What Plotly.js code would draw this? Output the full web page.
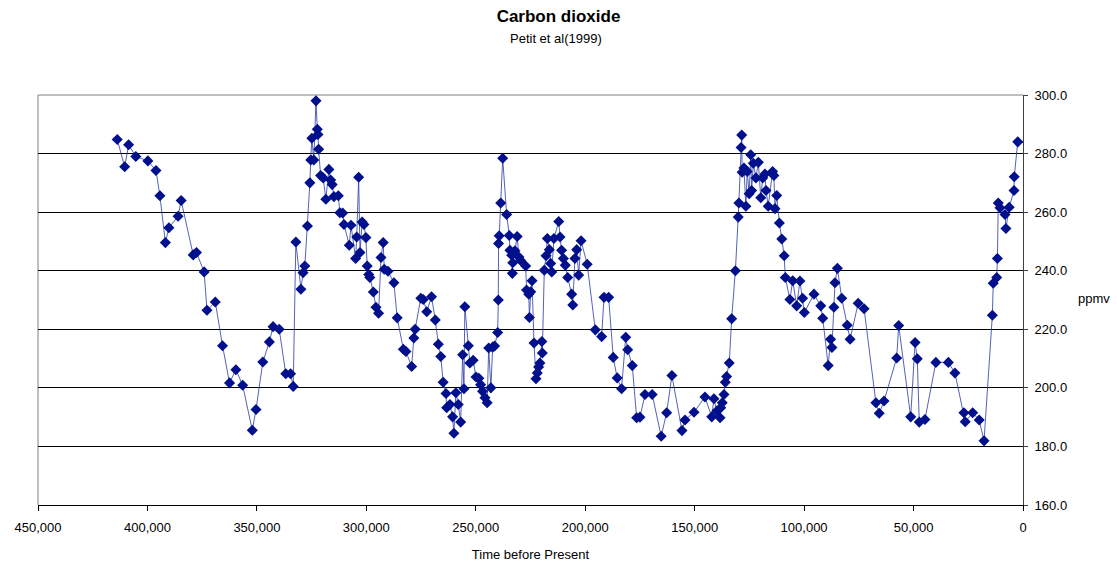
<!DOCTYPE html>
<html>
<head>
<meta charset="utf-8">
<script src="https://cdn.plot.ly/plotly-3.0.1.min.js"></script>
<style>html,body{margin:0;padding:0;background:#fff;}#chart{width:1117px;height:562px;}</style>
</head>
<body>
<div id="chart"></div>
<script>
// Years before present (Vostok ice core, Petit et al 1999)
const age = [
413800,410400,408600,405300,399800,396100,394300,391800,390200,386000,
384600,379100,377600,374100,372800,369000,365700,362500,359600,356500,
352100,350400,347300,344300,342600,339800,336800,334600,333400,332200,
329900,328900,328100,326900,325800,325400,324900,324000,323000,322400,
322100,321800,320900,319700,318500,317100,316300,315600,314800,312800,
312100,310800,310200,307800,307000,304900,304400,303500,302900,301900,
301100,300200,299600,298900,298400,296800,295600,294400,293300,292300,
291800,290100,287400,285900,283100,281900,279300,278300,277700,275100,
274000,272400,270200,268500,267100,266000,264900,263600,263300,261800,
260600,260000,259100,258000,256900,256000,255400,255000,253400,252700,
251200,249900,248600,247800,246900,245800,244800,244100,243100,242300,
241400,240000,239700,239600,239300,238600,237700,235900,234700,234400,
233600,233300,233100,232100,231100,230300,229500,227200,226800,225800,
225500,224900,224300,223400,222500,221900,221300,220700,219800,219600,
218700,217900,217300,216400,215800,215300,214300,212100,211500,210800,
210000,209100,208000,206200,205700,204700,203900,203000,201900,199100,
195400,192500,191400,189300,187200,185400,183400,181500,180600,178500,
176500,175000,172700,169400,165300,162800,160400,155800,154400,150300,
145300,142200,141200,139900,138400,138100,137400,136600,136000,135400,
134200,133100,131400,130100,129800,128800,128500,128300,127500,126600,
126000,125100,124400,124000,123200,122000,120900,119800,118900,117900,
117400,116400,114400,113800,113300,112500,111300,110200,109100,108600,
106500,105200,103400,101900,100700,99900,95500,92400,91500,89000,
87900,87300,86400,85900,84800,82800,80300,79000,75300,72600,
67200,65700,63500,57700,56800,51300,49300,48300,47400,44800,
39800,34100,31100,27000,26400,23000,20000,17800,14000,13600,
12000,11700,11300,10500,8200,7800,6300,4100,4000,2400
];
// CO2 concentration, ppmv
const co2 = [
284.8,275.5,283.0,279.0,277.5,274.2,265.6,249.6,254.7,258.6,
264.0,245.4,246.2,239.6,226.5,229.3,214.4,201.7,206.2,200.9,
185.5,192.6,208.8,215.7,220.9,220.0,204.8,204.8,200.5,249.8,
233.7,239.3,241.6,255.3,270.0,277.8,285.2,277.8,298.0,288.3,
286.5,281.5,272.5,271.7,264.4,274.6,271.0,269.4,265.3,265.6,
259.8,259.7,255.8,248.7,255.5,244.2,251.5,271.9,246.2,256.6,
255.8,251.3,241.6,238.7,237.7,232.7,227.5,225.5,244.5,249.6,
240.5,239.8,235.9,223.9,213.2,212.4,207.3,217.0,220.0,230.6,
230.2,226.0,231.1,223.2,214.9,210.7,201.9,198.1,193.2,194.3,
190.1,184.5,198.3,194.3,188.3,211.3,199.7,227.7,214.4,208.5,
209.4,203.7,203.3,201.1,198.8,196.6,194.9,213.6,200.0,213.9,
214.3,218.9,230.0,249.3,251.9,263.1,278.4,259.2,252.0,247.0,
245.3,239.1,242.7,246.8,251.7,244.7,243.5,241.6,233.4,232.0,
224.0,232.8,236.6,215.3,203.1,205.1,207.1,208.5,215.8,211.9,
240.2,245.1,251.0,247.2,242.5,239.6,251.0,256.8,251.5,247.0,
244.2,241.9,237.7,232.0,228.3,244.2,247.2,238.5,250.2,242.2,
219.8,217.5,230.9,230.9,210.4,203.4,199.7,217.3,213.0,207.6,
189.8,190.0,197.7,197.7,183.5,191.5,204.2,185.4,189.0,191.7,
196.9,190.1,196.3,192.1,189.8,193.2,194.9,197.7,201.9,203.9,
208.5,223.6,240.0,258.3,263.1,282.1,286.3,273.6,275.1,262.0,
273.9,266.3,279.6,267.4,276.7,271.7,277.0,264.9,271.7,273.0,
267.4,262.0,273.9,272.5,261.2,265.7,256.3,250.8,245.1,237.7,
230.2,236.6,228.0,236.5,230.6,225.7,232.0,228.0,223.8,207.6,
216.6,213.8,227.5,235.9,240.8,230.6,221.4,216.6,228.9,227.0,
194.9,191.3,195.5,210.2,221.3,190.1,215.5,209.9,188.3,189.2,
208.7,208.7,205.1,191.5,188.4,191.5,189.0,181.9,224.8,235.7,
237.7,244.2,263.1,261.5,259.2,254.4,261.7,267.4,272.1,284.0
];
const yTicks = [160,180,200,220,240,260,280,300];
const xTicks = [450000,400000,350000,300000,250000,200000,150000,100000,50000,0];

const FONT = '"Liberation Sans", Arial, sans-serif';

const trace = {
  x: age, y: co2, type: 'scatter', mode: 'lines+markers',
  line: {color: '#2a3aa6', width: 0.8},
  marker: {symbol: 'diamond', size: 8.5, color: '#000f8c', line: {width: 0}},
  hoverinfo: 'x+y', showlegend: false
};

const layout = {
  width: 1117, height: 562,
  margin: {l: 38, r: 94, t: 95, b: 57},
  paper_bgcolor: '#fff', plot_bgcolor: '#fff',
  font: {family: FONT, size: 13, color: '#000'},
  title: {text: '<b>Carbon dioxide</b>', font: {family: FONT, size: 17, color: '#000'},
          x: 0.5, xref: 'container', xanchor: 'center', y: 1 - 16/562, yref: 'container', yanchor: 'middle'},
  xaxis: {
    range: [450000, 0], tickvals: xTicks, tickformat: ',d',
    showgrid: false, zeroline: false,
    showline: true, linecolor: '#000', linewidth: 1,
    ticks: 'outside', ticklen: 5, tickcolor: '#000', tickwidth: 1,
    ticklabelstandoff: 5,
    tickfont: {family: FONT, size: 13, color: '#000'},
    title: {text: 'Time before Present', font: {family: FONT, size: 13, color: '#000'}, standoff: 16}
  },
  yaxis: {
    range: [160, 300], side: 'right', tickvals: yTicks, tickformat: '.1f',
    showgrid: true, gridcolor: '#000', gridwidth: 1, zeroline: false,
    showline: true, linecolor: '#404040', linewidth: 1,
    ticks: 'outside', ticklen: 4, tickcolor: '#404040', tickwidth: 1,
    ticklabelstandoff: 4,
    tickfont: {family: FONT, size: 13, color: '#000'}
  },
  shapes: [
    {type: 'line', xref: 'paper', yref: 'paper', x0: 0, x1: 0, y0: 0, y1: 1,
     line: {color: '#808080', width: 1}, layer: 'below'},
    {type: 'line', xref: 'paper', yref: 'paper', x0: 0, x1: 1, y0: 1, y1: 1,
     line: {color: '#808080', width: 1}, layer: 'below'}
  ],
  annotations: [
    {text: 'Petit et al(1999)', xref: 'paper', yref: 'paper', x: (556 - 38) / 985, y: 1 + 57 / 410.3,
     xanchor: 'center', yanchor: 'middle', showarrow: false, font: {family: FONT, size: 13, color: '#000'}},
    {text: 'ppmv', xref: 'paper', yref: 'paper', x: (1094 - 38) / 985, y: (505 - 298) / 410.3,
     xanchor: 'center', yanchor: 'middle', showarrow: false, font: {family: FONT, size: 13, color: '#000'}}
  ]
};

Plotly.newPlot('chart', [trace], layout, {displayModeBar: false, responsive: false});
</script>
</body>
</html>
